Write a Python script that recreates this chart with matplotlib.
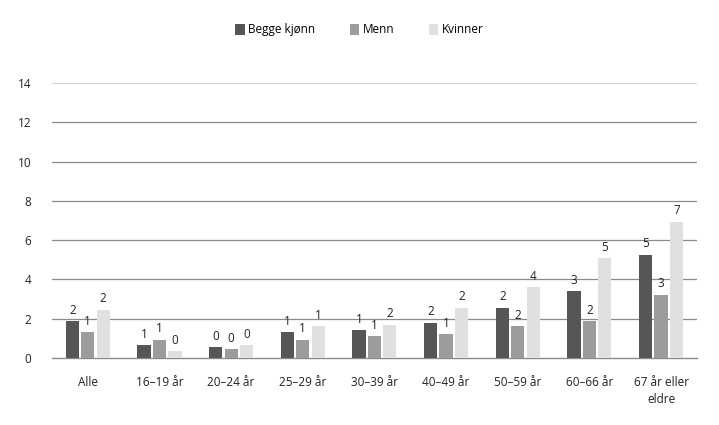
import numpy as np
import matplotlib
matplotlib.use("Agg")
import matplotlib.pyplot as plt
from matplotlib.patches import Patch

plt.rcParams["font.family"] = ["Open Sans", "DejaVu Sans"]

categories = ["Alle", "16–19 år", "20–24 år", "25–29 år", "30–39 år",
              "40–49 år", "50–59 år", "60–66 år", "67 år eller\neldre"]
series_names = ["Begge kjønn", "Menn", "Kvinner"]
begge = [1.89, 0.64, 0.56, 1.33, 1.41, 1.80, 2.57, 3.42, 5.26]
menn = [1.33, 0.93, 0.46, 0.93, 1.12, 1.22, 1.61, 1.89, 3.23]
kvinner = [2.46, 0.36, 0.64, 1.61, 1.70, 2.57, 3.62, 5.07, 6.95]
# tallene som står over stolpene i originalen
begge_lbl = ["2", "1", "0", "1", "1", "2", "2", "3", "5"]
menn_lbl = ["1", "1", "0", "1", "1", "1", "2", "2", "3"]
kvinner_lbl = ["2", "0", "0", "1", "2", "2", "4", "5", "7"]
yticks = [0, 2, 4, 6, 8, 10, 12, 14]

colors = ["#565656", "#9c9c9c", "#e0e0e0"]
values = [begge, menn, kvinner]
labels = [begge_lbl, menn_lbl, kvinner_lbl]

fig = plt.figure(figsize=(7.19, 4.25), dpi=100)
ax = fig.add_axes([0.0723, 0.1576, 0.897, 0.647])

x = np.arange(len(categories))
width = 0.185
step = 0.215
for i, (vals, lbls) in enumerate(zip(values, labels)):
    pos = x + (i - 1) * step
    ax.bar(pos, vals, width, color=colors[i], zorder=3)
    for p, v, t in zip(pos, vals, lbls):
        ax.text(p, v + 0.22, t, ha="center", va="bottom", fontsize=8.5, color="#222222")

ax.set_xlim(-0.5, len(categories) - 0.5)
ax.set_ylim(0, 14)
ax.set_yticks(yticks)
ax.set_yticklabels([str(t) for t in yticks], fontsize=8.5, color="#222222")
ax.set_xticks(x)
ax.set_xticklabels(categories, fontsize=8.5, color="#222222", linespacing=1.35, va="top")
ax.tick_params(axis="both", length=0)
ax.tick_params(axis="x", pad=13)
ax.tick_params(axis="y", pad=15)

for t in yticks[1:-1]:
    ax.axhline(t, color="#8a8a8a", lw=0.9, zorder=1)
ax.axhline(14, color="#c8c8c8", lw=1.2, zorder=1)
for s in ["top", "right", "left"]:
    ax.spines[s].set_visible(False)
ax.spines["bottom"].set_color("#8a8a8a")
ax.spines["bottom"].set_linewidth(1.0)

handles = [Patch(facecolor=c, edgecolor="none") for c in colors]
fig.legend(handles, series_names, loc="upper center", bbox_to_anchor=(0.5, 0.97),
           ncol=3, frameon=False, fontsize=8.5, handlelength=0.8, handleheight=1.1,
           handletextpad=0.3, columnspacing=2.9)

fig.savefig("out.png", dpi=100, facecolor="white")
